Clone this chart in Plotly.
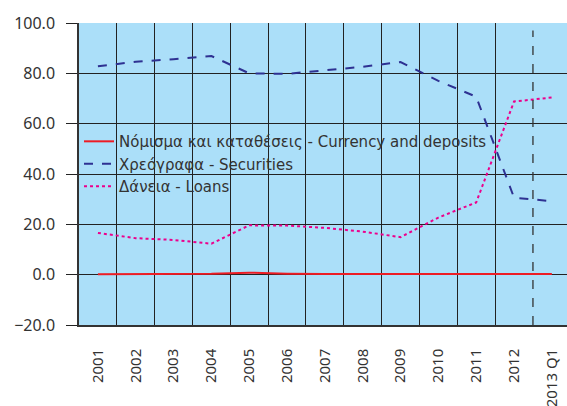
import plotly.graph_objects as go

categories = ["2001", "2002", "2003", "2004", "2005", "2006", "2007", "2008",
              "2009", "2010", "2011", "2012", "2013 Q1"]
currency = [0.2, 0.3, 0.3, 0.4, 0.8, 0.4, 0.3, 0.3, 0.3, 0.3, 0.2, 0.3, 0.3]
securities = [82.8, 84.6, 85.6, 86.9, 80.0, 79.8, 81.2, 82.6, 84.5, 77.0, 70.7, 30.6, 29.2]
loans = [16.6, 14.5, 13.8, 12.3, 19.6, 19.5, 18.6, 17.1, 14.9, 22.7, 28.7, 68.8, 70.4]

names = ["Νόμισμα και καταθέσεις - Currency and deposits",
         "Χρεόγραφα - Securities",
         "Δάνεια - Loans"]
yticks = [-20, 0, 20, 40, 60, 80, 100]

x = list(range(len(categories)))
fig = go.Figure()
fig.add_trace(go.Scatter(x=x, y=currency, name=names[0], mode="lines",
                         line=dict(color="#ED1C24", width=2)))
fig.add_trace(go.Scatter(x=x, y=securities, name=names[1], mode="lines",
                         line=dict(color="#2E3192", width=2, dash="dash")))
fig.add_trace(go.Scatter(x=x, y=loans, name=names[2], mode="lines",
                         line=dict(color="#EC008C", width=2, dash="dot")))

fig.add_shape(type="line", xref="x", yref="y", x0=11.5, x1=11.5, y0=-20, y1=97,
              line=dict(color="#333333", width=1.3, dash="dash"), layer="above")

fig.update_layout(
    width=567, height=406,
    margin=dict(l=79, r=0, t=23, b=81, autoexpand=False),
    paper_bgcolor="white", plot_bgcolor="#ABDFF9",
    font=dict(family="Noto Sans", size=16, color="#333333"),
    showlegend=True,
    legend=dict(x=0.0, y=0.662, xanchor="left", yanchor="top",
                bgcolor="rgba(0,0,0,0)",
                font=dict(family="DejaVu Sans", size=15, color="#333333"),
                tracegroupgap=0, itemwidth=30),
    xaxis=dict(range=[-0.5, 12.4], tickmode="array", tickvals=x, ticktext=categories,
               tickangle=-90, showgrid=False, zeroline=False, automargin=False,
               showline=True, linecolor="#333333", linewidth=1.5,
               ticks="outside", ticklen=16, tickcolor="rgba(0,0,0,0)",
               tickfont=dict(family="Noto Sans", size=15, color="#333333"),
               minor=dict(tickmode="array", tickvals=[i + 0.5 for i in range(11)],
                          showgrid=True, gridcolor="#222222", gridwidth=1.2, ticks="")),
    yaxis=dict(range=[-20, 100], tickmode="array", tickvals=yticks, automargin=False,
               tickformat=".1f", showgrid=True, gridcolor="#222222", gridwidth=1.2,
               zeroline=False, showline=True, linecolor="#333333", linewidth=1.5,
               ticks="outside", ticklen=11, tickcolor="#222222",
               ticklabelstandoff=8,
               tickfont=dict(family="Noto Sans", size=16, color="#333333")),
)
fig.write_html("out.html", config={"displayModeBar": False},
               post_script="document.body.style.margin='0px';document.body.style.overflow='hidden';")
